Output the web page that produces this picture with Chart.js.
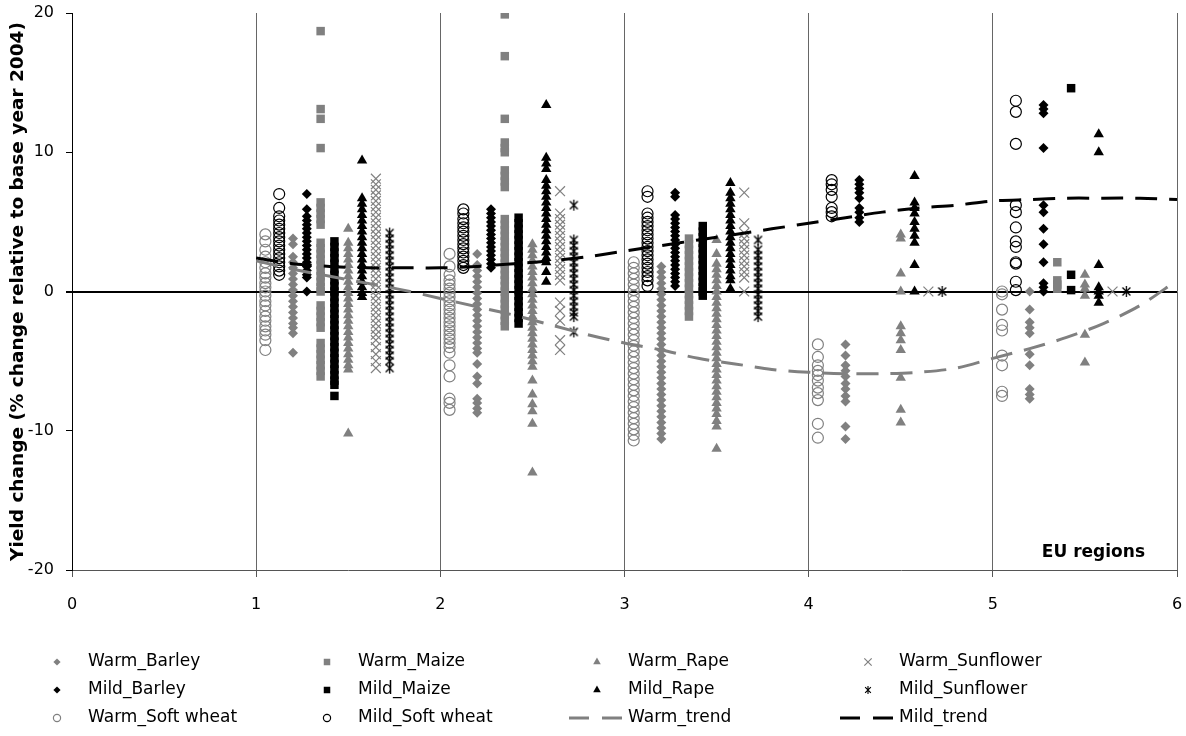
<!DOCTYPE html>
<html>
<head>
<meta charset="utf-8">
<script src="https://cdn.jsdelivr.net/npm/chart.js@4.4.0/dist/chart.umd.min.js"></script>
<style>
  html, body { margin: 0; padding: 0; background: #fff; }
  #wrap { width: 1186px; height: 736px; }
</style>
</head>
<body>
<div id="wrap"><canvas id="chart"></canvas></div>
<script>
// EU regions on the x axis, each crop/scenario sits at a small offset inside its region
var regions = [1, 2, 3, 4, 5];

// yield change values per region (R1..R5)
var warmBarley = [
  [3.8, 3.4, 2.5, 2.1, 1.7, 1.3, 0.9, 0.5, 0.1, -0.3, -0.7, -1.1, -1.5, -1.9, -2.3, -2.6, -3.0, -4.4],
  [2.7, 1.9, 1.5, 1.1, 0.7, 0.3, -0.1, -0.5, -0.9, -1.3, -1.7, -2.1, -2.5, -2.9, -3.3, -3.7, -4.1, -4.4, -5.2, -6.1, -6.6, -7.7, -8.0, -8.4, -8.7],
  [1.8, 1.4, 1.0, 0.6, 0.2, -0.2, -0.6, -1.0, -1.4, -1.8, -2.2, -2.6, -3.0, -3.4, -3.8, -4.2, -4.6, -5.0, -5.4, -5.8, -6.2, -6.6, -7.0, -7.4, -7.8, -8.2, -8.6, -9.0, -9.4, -9.8, -10.2, -10.6],
  [-3.8, -4.6, -5.3, -5.7, -6.1, -6.6, -7.0, -7.5, -7.9, -9.7, -10.6],
  [0, -1.3, -2.2, -2.6, -3.0, -4.5, -5.3, -7.0, -7.4, -7.7]
];
var mildBarley = [
  [7.0, 5.9, 5.4, 5.1, 4.8, 4.5, 4.2, 3.9, 3.6, 3.3, 3.0, 2.7, 2.4, 2.1, 1.8, 1.5, 1.2, 1.0, 0],
  [5.9, 5.6, 5.3, 5.0, 4.7, 4.4, 4.1, 3.8, 3.5, 3.2, 2.9, 2.6, 2.3, 2.0, 1.7],
  [7.1, 6.8, 5.5, 5.2, 4.9, 4.6, 4.3, 4.0, 3.7, 3.4, 3.1, 2.8, 2.5, 2.2, 1.9, 1.6, 1.3, 1.0, 0.7, 0.4],
  [8.0, 7.7, 7.4, 7.1, 6.7, 6.0, 5.7, 5.3, 5.0],
  [13.4, 13.1, 12.8, 10.3, 6.2, 5.7, 4.5, 3.4, 2.1, 0.6, 0.3, 0]
];
var warmSoftWheat = [
  [4.1, 3.6, 3.0, 2.5, 2.1, 1.7, 1.3, 1.0, 0.6, 0.3, 0, -0.3, -0.7, -1.0, -1.4, -1.8, -2.1, -2.5, -2.8, -3.1, -3.5, -4.2],
  [2.7, 1.8, 1.2, 0.8, 0.5, 0.2, -0.1, -0.4, -0.7, -1.0, -1.3, -1.6, -1.9, -2.2, -2.5, -2.8, -3.1, -3.4, -3.7, -4.0, -4.4, -5.3, -6.1, -7.7, -8.0, -8.5],
  [2.1, 1.7, 1.3, 0.9, 0.5, 0.1, -0.3, -0.7, -1.1, -1.5, -1.9, -2.3, -2.7, -3.1, -3.5, -3.9, -4.3, -4.7, -5.1, -5.5, -5.9, -6.3, -6.7, -7.1, -7.5, -7.9, -8.3, -8.7, -9.1, -9.5, -9.9, -10.3, -10.7],
  [-3.8, -4.7, -5.3, -5.7, -6.0, -6.4, -6.9, -7.3, -7.8, -9.5, -10.5],
  [0, -0.2, -1.3, -2.4, -2.8, -4.6, -5.3, -7.2, -7.5]
];
var mildSoftWheat = [
  [7.0, 6.0, 5.4, 5.1, 4.8, 4.5, 4.2, 3.9, 3.6, 3.3, 3.0, 2.7, 2.4, 2.1, 1.8, 1.5, 1.2],
  [5.9, 5.6, 5.2, 4.9, 4.6, 4.3, 4.0, 3.7, 3.4, 3.1, 2.8, 2.5, 2.2, 1.9, 1.7],
  [7.2, 6.8, 5.6, 5.3, 5.0, 4.7, 4.4, 4.1, 3.8, 3.5, 3.2, 2.9, 2.6, 2.3, 2.0, 1.7, 1.4, 1.1, 0.8, 0.4],
  [8.0, 7.7, 7.3, 6.8, 6.0, 5.7, 5.4],
  [13.7, 12.9, 10.6, 6.2, 5.7, 4.6, 3.6, 3.2, 2.1, 2.0, 0.7, 0.1]
];
var warmMaize = [
  [18.7, 13.1, 12.4, 10.3, 6.4, 6.0, 5.6, 5.2, 4.8, 3.5, 3.1, 2.7, 2.3, 1.9, 1.5, 1.1, 0.7, 0.3, 0, -1.0, -1.4, -1.8, -2.2, -2.6, -3.7, -4.1, -4.5, -4.9, -5.3, -5.7, -6.1],
  [19.9, 16.9, 12.4, 10.7, 10.3, 10.0, 8.7, 8.3, 7.9, 7.5, 5.2, 4.8, 4.4, 4.0, 3.6, 3.2, 2.8, 2.4, 2.0, 1.6, 1.2, 0.8, 0.4, 0, -0.5, -0.9, -1.3, -1.7, -2.1, -2.5],
  [3.8, 3.4, 3.0, 2.6, 2.2, 1.8, 1.4, 1.0, 0.6, 0.2, -0.2, -0.6, -1.0, -1.4, -1.8],
  [],
  [2.1, 0.8, 0.5, 0.2]
];
var mildMaize = [
  [3.6, 3.2, 2.8, 2.4, 2.0, 1.6, 1.2, 0.8, 0.4, 0, -0.4, -0.8, -1.2, -1.6, -2.0, -2.4, -2.8, -3.2, -3.6, -4.0, -4.4, -4.8, -5.2, -5.6, -6.0, -6.4, -6.7, -7.5],
  [5.3, 4.9, 4.5, 4.1, 3.7, 3.3, 2.9, 2.5, 2.1, 1.7, 1.3, 0.9, 0.5, 0.1, -0.3, -0.7, -1.1, -1.5, -1.9, -2.3],
  [4.7, 4.3, 3.9, 3.5, 3.1, 2.7, 2.3, 1.9, 1.5, 1.1, 0.7, 0.3, 0, -0.3],
  [],
  [14.6, 1.2, 0.1]
];
var warmRape = [
  [4.5, 3.5, 3.1, 2.7, 2.3, 1.9, 1.5, 1.1, 0.7, 0.3, -0.1, -0.5, -0.9, -1.3, -1.7, -2.1, -2.5, -2.9, -3.3, -3.7, -4.1, -4.5, -4.9, -5.3, -5.6, -10.2],
  [3.4, 3.0, 2.6, 2.2, 1.8, 1.4, 1.0, 0.6, 0.2, -0.2, -0.6, -1.0, -1.4, -1.8, -2.2, -2.6, -3.0, -3.4, -3.8, -4.2, -4.6, -5.0, -5.4, -6.4, -7.4, -8.1, -8.6, -9.5, -13.0],
  [3.7, 2.7, 2.0, 1.6, 1.2, 0.8, 0.4, 0, -0.4, -0.8, -1.2, -1.6, -2.0, -2.4, -2.8, -3.2, -3.6, -4.0, -4.4, -4.8, -5.2, -5.6, -6.0, -6.4, -6.8, -7.2, -7.6, -8.0, -8.4, -8.8, -9.3, -9.7, -11.3],
  [4.1, 3.8, 1.3, 0, -2.5, -3.0, -3.5, -4.2, -6.2, -8.5, -9.4],
  [1.2, 0.5, 0.2, -0.3, -3.1, -5.1]
];
var mildRape = [
  [9.4, 6.7, 6.3, 5.9, 5.5, 5.1, 4.7, 4.3, 3.9, 3.5, 3.1, 2.7, 2.3, 1.9, 1.5, 1.1, 0.7, 0.3, -0.1, -0.4],
  [13.4, 9.6, 9.2, 8.8, 8.0, 7.6, 7.2, 6.8, 6.4, 6.0, 5.6, 5.2, 4.8, 4.4, 4.0, 3.6, 3.2, 2.8, 2.4, 2.1, 1.4, 0.7],
  [7.8, 7.1, 6.7, 6.3, 5.9, 5.5, 5.1, 4.7, 4.3, 3.9, 3.5, 3.1, 2.7, 2.3, 1.9, 1.5, 1.1, 0.8, 0.2],
  [8.3, 6.4, 6.0, 5.6, 5.0, 4.5, 4.0, 3.5, 1.9, 0],
  [11.3, 10.0, 1.9, 0.3, 0, -0.3, -0.8]
];
var warmSunflower = [
  [8.1, 7.7, 7.3, 6.9, 6.5, 6.1, 5.7, 5.3, 4.9, 4.5, 4.1, 3.7, 3.3, 2.9, 2.5, 2.1, 1.7, 1.3, 0.9, 0.5, 0.1, -0.3, -0.7, -1.1, -1.5, -1.9, -2.3, -2.7, -3.1, -3.5, -4.0, -4.5, -5.0, -5.5],
  [7.2, 5.6, 5.2, 4.8, 4.4, 4.0, 3.6, 3.2, 2.8, 2.4, 2.0, 1.6, 1.2, 0.8, -0.8, -1.4, -2.1, -3.5, -4.2],
  [7.1, 4.9, 4.2, 3.8, 3.4, 3.0, 2.6, 2.2, 1.8, 1.4, 1.0, 0],
  [0],
  [0]
];
var mildSunflower = [
  [4.2, 3.8, 3.4, 3.0, 2.6, 2.2, 1.8, 1.4, 1.0, 0.6, 0.2, -0.2, -0.6, -1.0, -1.4, -1.8, -2.2, -2.6, -3.0, -3.4, -3.8, -4.2, -4.6, -5.0, -5.5],
  [6.2, 3.7, 3.3, 2.9, 2.5, 2.1, 1.7, 1.3, 0.9, 0.5, 0.1, -0.3, -0.7, -1.1, -1.5, -1.8, -2.9],
  [3.7, 3.0, 2.6, 2.2, 1.8, 1.4, 1.0, 0.6, 0.2, -0.2, -0.6, -1.0, -1.4, -1.8],
  [0],
  [0]
];

// column offset of each series inside a region
var colOffsets = {
  warmSoftWheat: 0.05, mildSoftWheat: 0.125, warmBarley: 0.2, mildBarley: 0.275,
  warmMaize: 0.35, mildMaize: 0.425, warmRape: 0.5, mildRape: 0.575,
  warmSunflower: 0.65, mildSunflower: 0.725
};

// trend lines
var trendX = [1.0, 1.2, 1.4, 1.6, 1.8, 2.0, 2.2, 2.4, 2.6, 2.8, 3.0, 3.2, 3.4, 3.6, 3.8, 4.0, 4.2, 4.4, 4.6, 4.8, 5.0, 5.2, 5.4, 5.6, 5.8, 6.0];
var warmTrend = [2.2, 1.6, 1.1, 0.6, 0.1, -0.5, -1.1, -1.7, -2.4, -3.1, -3.7, -4.2, -4.8, -5.2, -5.6, -5.8, -5.9, -5.9, -5.8, -5.5, -4.8, -4.1, -3.3, -2.3, -1.0, 0.8];
var mildTrend = [2.4, 2.0, 1.8, 1.7, 1.7, 1.7, 1.8, 2.0, 2.2, 2.5, 2.9, 3.3, 3.7, 4.1, 4.5, 4.9, 5.3, 5.7, 6.0, 6.2, 6.5, 6.6, 6.7, 6.7, 6.7, 6.6];

var xTicks = [0, 1, 2, 3, 4, 5, 6];
var yTicks = [-20, -10, 0, 10, 20];

function toPoints(values, offset) {
  var pts = [];
  regions.forEach(function(r, i) {
    values[i].forEach(function(v) { pts.push({x: r + offset, y: v}); });
  });
  return pts;
}
function toLine(xs, ys) {
  return xs.map(function(x, i) { return {x: x, y: ys[i]}; });
}

function makeAsterisk(size, color, lw) {
  var c = document.createElement('canvas');
  c.width = size; c.height = size;
  var g = c.getContext('2d');
  var m = size / 2, r = size / 2 - 1, d = r * 0.72;
  g.strokeStyle = color; g.lineWidth = lw;
  g.beginPath();
  g.moveTo(m, m - r); g.lineTo(m, m + r);
  g.moveTo(m - d, m - d); g.lineTo(m + d, m + d);
  g.moveTo(m + d, m - d); g.lineTo(m - d, m + d);
  g.stroke();
  return c;
}

var GRAY = '#808080';
var BLACK = '#000000';
var starBig = makeAsterisk(13, BLACK, 1.3);
var starSmall = makeAsterisk(10, BLACK, 1.1);

function scatterSet(label, values, offset, style, radius, color, hollow, legendRadius, legendStyle) {
  return {
    label: label,
    data: toPoints(values, offset),
    pointStyle: style,
    pointRadius: radius,
    pointHoverRadius: radius,
    pointBackgroundColor: hollow ? 'rgba(0,0,0,0)' : color,
    pointBorderColor: color,
    pointBorderWidth: hollow ? 1.2 : 0,
    legendRadius: legendRadius,
    legendStyle: legendStyle || style,
    order: 1
  };
}

var datasets = [
  scatterSet('Warm_Barley', warmBarley, colOffsets.warmBarley, 'rectRot', 5, GRAY, false, 3.6),
  scatterSet('Warm_Maize', warmMaize, colOffsets.warmMaize, 'rect', 6, GRAY, false, 4.6),
  scatterSet('Warm_Rape', warmRape, colOffsets.warmRape, 'triangle', 6, GRAY, false, 4.4),
  scatterSet('Warm_Sunflower', warmSunflower, colOffsets.warmSunflower, 'crossRot', 7, GRAY, true, 5.2),
  scatterSet('Mild_Barley', mildBarley, colOffsets.mildBarley, 'rectRot', 5, BLACK, false, 3.6),
  scatterSet('Mild_Maize', mildMaize, colOffsets.mildMaize, 'rect', 6, BLACK, false, 4.6),
  scatterSet('Mild_Rape', mildRape, colOffsets.mildRape, 'triangle', 6, BLACK, false, 4.4),
  scatterSet('Mild_Sunflower', mildSunflower, colOffsets.mildSunflower, starBig, 6, BLACK, false, 5, starSmall),
  scatterSet('Warm_Soft wheat', warmSoftWheat, colOffsets.warmSoftWheat, 'circle', 5.5, GRAY, true, 3.6),
  scatterSet('Mild_Soft wheat', mildSoftWheat, colOffsets.mildSoftWheat, 'circle', 5.5, BLACK, true, 3.6),
  {
    label: 'Warm_trend', data: toLine(trendX, warmTrend), showLine: true,
    borderColor: GRAY, borderWidth: 3, borderDash: [22, 12], pointRadius: 0, tension: 0.3, order: 0
  },
  {
    label: 'Mild_trend', data: toLine(trendX, mildTrend), showLine: true,
    borderColor: BLACK, borderWidth: 3, borderDash: [22, 12], pointRadius: 0, tension: 0.3, order: 0
  }
];

var legendCols = [57, 327, 597, 868];
var legendRows = [662, 690, 718];

var customLegend = {
  id: 'customLegend',
  afterDraw: function(chart) {
    var ctx = chart.ctx;
    ctx.save();
    chart.data.datasets.forEach(function(ds, i) {
      var mx = legendCols[i % 4], my = legendRows[Math.floor(i / 4)];
      if (ds.showLine) {
        ctx.strokeStyle = ds.borderColor;
        ctx.lineWidth = 3;
        ctx.setLineDash([20, 13]);
        ctx.beginPath();
        ctx.moveTo(mx - 28, my);
        ctx.lineTo(mx + 29, my);
        ctx.stroke();
        ctx.setLineDash([]);
      } else {
        ctx.fillStyle = ds.pointBackgroundColor;
        ctx.strokeStyle = ds.pointBorderColor;
        ctx.lineWidth = ds.pointBorderWidth;
        Chart.helpers.drawPoint(ctx, {
          pointStyle: ds.legendStyle, radius: ds.legendRadius, rotation: 0, borderWidth: ds.pointBorderWidth
        }, mx, my);
      }
      ctx.fillStyle = '#000';
      ctx.font = '17px "DejaVu Sans"';
      ctx.textAlign = 'left';
      ctx.textBaseline = 'middle';
      ctx.fillText(ds.label, mx + 31, my);
    });
    // axis label inside the plot
    var area = chart.chartArea;
    ctx.font = 'bold 17px "DejaVu Sans"';
    ctx.textAlign = 'right';
    ctx.fillText('EU regions', area.right - 32, area.bottom - 17);
    ctx.restore();
  }
};

window.onload = function() {
  var ctx = document.getElementById('chart').getContext('2d');
  window.myChart = new Chart(ctx, {
    type: 'scatter',
    data: { datasets: datasets },
    options: {
      responsive: true,
      maintainAspectRatio: false,
      animation: false,
      events: [],
      layout: { padding: { top: 13, right: 9, bottom: 121, left: 0 } },
      plugins: {
        legend: { display: false },
        tooltip: { enabled: false }
      },
      scales: {
        x: {
          type: 'linear',
          min: 0, max: 6,
          afterFit: function(scale) {
            scale.height = 45;
            scale.paddingLeft = 0;
            scale.paddingRight = 0;
          },
          afterBuildTicks: function(scale) { scale.ticks = xTicks.map(function(v) { return {value: v}; }); },
          ticks: { color: '#000', padding: 18, font: { family: 'DejaVu Sans', size: 16 } },
          grid: { color: '#666', lineWidth: 1, tickLength: 7, tickColor: '#555' },
          border: { display: true, color: '#555', width: 1 }
        },
        y: {
          type: 'linear',
          min: -20, max: 20,
          afterFit: function(scale) {
            scale.width = 72;
            scale.paddingTop = 0;
            scale.paddingBottom = 0;
          },
          afterBuildTicks: function(scale) { scale.ticks = yTicks.map(function(v) { return {value: v}; }); },
          ticks: { color: '#000', padding: 12, font: { family: 'DejaVu Sans', size: 16 } },
          grid: {
            color: function(c) { return c.tick && c.tick.value === 0 ? '#000' : 'rgba(0,0,0,0)'; },
            lineWidth: function(c) { return c.tick && c.tick.value === 0 ? 2 : 1; },
            tickColor: '#000',
            tickLength: 6
          },
          border: { display: true, color: '#000', width: 1 },
          title: {
            display: true,
            text: 'Yield change (% change relative to base year 2004)',
            color: '#000',
            font: { family: 'DejaVu Sans', size: 18.5, weight: 'bold' },
            padding: { top: 7, bottom: 0 }
          }
        }
      }
    },
    plugins: [customLegend]
  });
};
</script>
</body>
</html>
